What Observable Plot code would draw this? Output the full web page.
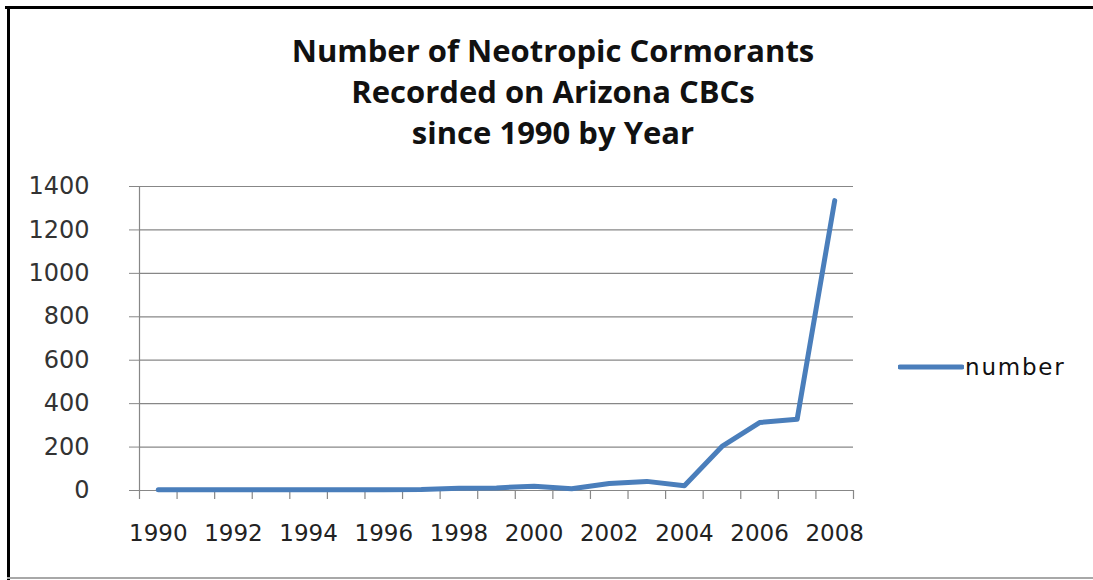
<!DOCTYPE html>
<html>
<head>
<meta charset="utf-8">
<script src="https://cdn.jsdelivr.net/npm/d3@7"></script>
<script src="https://cdn.jsdelivr.net/npm/@observablehq/plot@0.6"></script>
<style>
  html, body { margin: 0; padding: 0; background: #fff; overflow: hidden; width: 1093px; height: 580px; }
  #frame { position: relative; width: 1093px; height: 580px; overflow: hidden; background: #fff; }
  .bt { position: absolute; left: 5px; top: 6px; width: 1088px; height: 3px; background: #000; }
  .bl { position: absolute; left: 7px; top: 6px; width: 3px; height: 574px; background: #000; }
  .bb { position: absolute; left: 7px; top: 577px; width: 1086px; height: 2px; background: #a8a8a8; }
  .cover { position: absolute; left: 1084px; top: 10px; width: 9px; height: 566px; background: #fff; }
  #title { position: absolute; left: 53px; width: 1000px; top: 30px; text-align: center;
           font-family: "Open Sans", sans-serif; font-weight: 700; font-size: 31px; line-height: 41px; color: #111; }
  #legend { position: absolute; left: 898px; top: 352px; height: 30px; display: flex; align-items: center;
            font-family: "DejaVu Sans", sans-serif; font-size: 23px; letter-spacing: 1.8px; color: #111; }
  #chart { position: absolute; left: 0; top: 0; }
</style>
</head>
<body>
<div id="frame">
  <div id="chart"></div>
  <div class="bt"></div><div class="bl"></div><div class="bb"></div><div class="cover"></div>
  <div id="title">Number of Neotropic Cormorants<br>Recorded on Arizona CBCs<br>since 1990 by Year</div>
  <div id="legend"></div>
</div>
<script>
const years = [1990, 1991, 1992, 1993, 1994, 1995, 1996, 1997, 1998, 1999,
               2000, 2001, 2002, 2003, 2004, 2005, 2006, 2007, 2008];
const counts = [4, 4, 4, 4, 4, 4, 4, 5, 10, 12,
                20, 8, 32, 42, 22, 203, 313, 328, 1335];
const yTicks = [0, 200, 400, 600, 800, 1000, 1200, 1400];
const xLabelYears = [1990, 1992, 1994, 1996, 1998, 2000, 2002, 2004, 2006, 2008];
const seriesName = "number";

const lineColor = "#4a7ebb";
const gridColor = "#878787";

const data = years.map((year, i) => ({year, count: counts[i]}));
const boundaries = years.map(y => y - 0.5).concat([years[years.length - 1] + 0.5]);

const chart = Plot.plot({
  width: 1093,
  height: 580,
  marginTop: 186,
  marginBottom: 90,
  marginLeft: 139,
  marginRight: 240,
  x: {type: "linear", domain: [boundaries[0], boundaries[boundaries.length - 1]]},
  y: {domain: [yTicks[0], yTicks[yTicks.length - 1]]},
  style: {background: "transparent", fontFamily: "DejaVu Sans, sans-serif"},
  marks: [
    Plot.gridY(yTicks, {stroke: gridColor, strokeOpacity: 1, strokeWidth: 1.2}),
    Plot.axisY(yTicks, {tickSize: 10, tickPadding: 40, fontSize: 24, stroke: gridColor, strokeOpacity: 1, fill: "#333", label: null, tickFormat: d => String(d)}),
    Plot.ruleX([boundaries[0]], {stroke: gridColor, strokeWidth: 1.2}),
    Plot.axisX(boundaries, {tickSize: 9, tickFormat: () => "", stroke: gridColor, strokeOpacity: 1, strokeWidth: 1.2, label: null}),
    Plot.axisX(xLabelYears, {tickSize: 0, tickPadding: 34, fontSize: 23, fill: "#222", tickFormat: d => String(d), label: null}),
    Plot.lineY(data, {x: "year", y: "count", stroke: lineColor, strokeWidth: 5, strokeLinejoin: "round", strokeLinecap: "round"})
  ]
});
document.getElementById("chart").appendChild(chart);

const legend = document.getElementById("legend");
legend.innerHTML = `<svg width="66" height="10" style="margin-right:1px"><line x1="2" y1="5" x2="64" y2="5" stroke="${lineColor}" stroke-width="5" stroke-linecap="round"/></svg><span>${seriesName}</span>`;
</script>
</body>
</html>
